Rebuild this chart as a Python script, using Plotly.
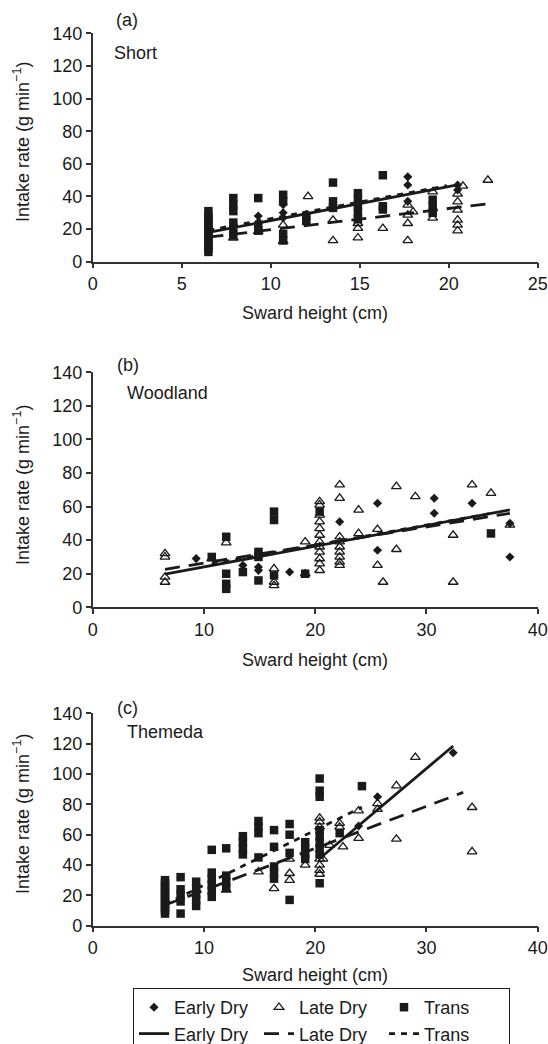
import plotly.graph_objects as go

# ---------------- data ----------------
panels = ["(a)", "(b)", "(c)"]
sites = ["Short", "Woodland", "Themeda"]
x_max = [25, 40, 40]
x_dtick = [5, 10, 10]
y_ticks = [0, 20, 40, 60, 80, 100, 120, 140]

# Panel (a) Short
a_early_x = [9.3, 9.3, 10.7, 10.7, 10.7, 12.0, 13.5, 14.9, 17.7, 17.7, 17.7, 20.5, 20.5]
a_early_y = [28, 24, 35, 30, 27, 29, 33, 36, 52, 47, 37, 47, 44]
a_late_x = [7.9, 9.3, 10.7, 10.7, 12.1, 13.5, 13.5, 14.9, 14.9, 14.9, 16.3, 17.7, 17.7, 17.7, 17.7,
            18.0, 19.1, 19.1, 20.5, 20.5, 20.5, 20.5, 20.5, 20.5, 20.8, 22.2]
a_late_y = [14.5, 18.5, 12.5, 22.5, 40, 13, 25.5, 14.7, 20.5, 23.5, 20.5, 13, 23.5, 28.6, 34.8,
            30.6, 26.8, 42.9, 19, 22.5, 25.6, 31.7, 36.8, 41.5, 46.4, 50]
a_trans_x = [6.5] * 13 + [7.9] * 6 + [9.3] * 3 + [10.7] * 4 + [12.0] * 2 + [13.5] * 3 + [14.9] * 5 + \
            [16.3] * 3 + [19.1] * 3
a_trans_y = [6, 8, 10, 12, 14, 16, 18, 20, 22, 24, 26, 28, 31,
             39, 35, 31, 24, 20, 16,
             39, 22, 19,
             41, 37, 17, 13,
             28, 25,
             48.5, 37, 33,
             42, 38, 34, 30, 26,
             53, 34, 32,
             38, 34, 30]

# Panel (b) Woodland
b_early_x = [9.3, 13.5, 14.9, 14.9, 17.7, 22.2, 25.6, 25.6, 30.7, 30.7, 34.1, 37.5, 37.5]
b_early_y = [29, 25, 24, 22, 21, 51, 62, 34, 65, 56, 62, 50, 30]
b_late_x = [6.5, 6.5, 6.5, 6.5, 10.7, 12.0, 16.3, 16.3, 16.3, 19.1, 19.1] + [20.4] * 12 + [22.2] * 9 + \
           [23.9, 23.9, 25.6, 25.6, 26.1, 27.3, 27.3, 29.0, 32.4, 32.4, 34.1, 35.8, 37.5]
b_late_y = [32, 30, 18, 15, 29, 38.5, 23, 15, 13, 39, 20,
            63, 61, 55, 51, 47, 43, 39, 36, 33, 29, 26, 22,
            73, 65, 42, 39, 36, 33, 30, 27, 25,
            58, 44, 46.5, 25, 15, 72, 34.5, 66, 43, 15, 73, 68, 49]
b_trans_x = [10.7, 12.0, 12.0, 12.0, 12.0, 13.5, 14.9, 14.9, 14.9, 16.3, 16.3, 16.3, 19.1, 20.4, 35.8]
b_trans_y = [30, 42, 20, 14, 11, 21, 33, 30, 16, 57, 52, 19, 20, 57, 44]

# Panel (c) Themeda
c_early_x = [20.4, 20.4, 23.9, 25.6, 32.4]
c_early_y = [52, 46, 65.7, 85, 114]
c_late_x = [12.0, 14.9, 16.3, 17.7, 17.7, 17.7, 19.1, 20.4, 20.4, 20.4, 20.4, 20.4, 20.4, 20.4,
            20.7, 21.3, 22.2, 22.2, 22.5, 23.9, 23.9, 25.6, 25.6, 27.3, 27.3, 29.0, 34.1, 34.1]
c_late_y = [23.5, 35.5, 24.5, 44, 34.5, 30, 40, 71, 68.5, 65, 44, 40, 36.5, 34,
            44, 53, 67.5, 65, 52, 75.8, 57.6, 80.6, 76.7, 92.3, 57.1, 111, 78, 48.8]
c_trans_x = [6.5] * 12 + [7.9] * 5 + [9.3] * 5 + [10.7] * 6 + [12.0] * 4 + [13.5] * 4 + [14.9] * 4 + \
            [16.3] * 5 + [17.7] * 4 + [19.1] * 4 + [20.4] * 9 + [22.2, 24.2]
c_trans_y = [8, 10, 12, 14, 16, 18, 20, 22, 24, 26, 28, 30,
             32, 24, 20, 16, 8,
             29, 25, 21, 17, 13,
             50, 35, 31, 27, 23, 19,
             51, 33, 29, 25,
             59, 55, 51, 47,
             69, 65, 61, 45,
             63, 52, 39, 35, 31,
             67, 60, 48, 17,
             55, 51, 47, 44,
             97, 89, 85, 63, 59, 55, 51, 47, 28,
             61, 92]

early_x = [a_early_x, b_early_x, c_early_x]
early_y = [a_early_y, b_early_y, c_early_y]
late_x = [a_late_x, b_late_x, c_late_x]
late_y = [a_late_y, b_late_y, c_late_y]
trans_x = [a_trans_x, b_trans_x, c_trans_x]
trans_y = [a_trans_y, b_trans_y, c_trans_y]

# fitted regression lines: slope, intercept, x-range per panel
early_slope = [2.08, 1.235, 6.18]
early_icpt = [4.4, 11.67, -81.8]
early_range = [[6.5, 20.5], [6.5, 37.5], [20.4, 32.4]]
late_slope = [1.3, 1.077, 2.77]
late_icpt = [6.6, 15.6, -4.4]
late_range = [[6.5, 22.2], [6.5, 37.5], [6.5, 33.3]]
trans_slope = [2.04, 1.2, 3.62]
trans_icpt = [6.0, 13.0, -9.5]
trans_range = [[6.5, 19.9], [10.7, 35.8], [6.5, 24.2]]

series_names = ["Early Dry", "Late Dry", "Trans"]

# ---------------- layout geometry ----------------
W, H = 548, 1044
ML, MR = 90, 10
GW = W - ML - MR


def px_x(px):
    return (px - ML) / GW


def px_y(py):
    return 1 - py / H


plot_left, plot_right = 92.7, 537.7
plot_tops = [33.3, 372.3, 713.3]
plot_bottoms = [261.7, 607.3, 925.7]

FONT = "Liberation Sans, Arial, Helvetica, sans-serif"
INK = "#1a1a1a"
AX = "#333333"

fig = go.Figure()

marker_styles = [
    dict(symbol="diamond", size=7, color=INK, line=dict(width=0)),
    dict(symbol="triangle-up-open", size=8.5, color=INK, line=dict(width=1.3, color=INK)),
    dict(symbol="square", size=8.5, color=INK, line=dict(width=0)),
]
line_dashes = ["solid", "15px,9px", "6px,6px"]

xs_all = [early_x, late_x, trans_x]
ys_all = [early_y, late_y, trans_y]
slopes = [early_slope, late_slope, trans_slope]
icpts = [early_icpt, late_icpt, trans_icpt]
ranges = [early_range, late_range, trans_range]

for s in range(3):
    for p in range(3):
        xa = "x" if p == 0 else f"x{p + 1}"
        ya = "y" if p == 0 else f"y{p + 1}"
        fig.add_trace(go.Scatter(
            x=xs_all[s][p], y=ys_all[s][p], mode="markers",
            marker=marker_styles[s], name=series_names[s],
            showlegend=(p == 0), legendrank=s + 1,
            xaxis=xa, yaxis=ya, cliponaxis=False))

for s in range(3):
    for p in range(3):
        xa = "x" if p == 0 else f"x{p + 1}"
        ya = "y" if p == 0 else f"y{p + 1}"
        x0, x1 = ranges[s][p]
        m, b = slopes[s][p], icpts[s][p]
        fig.add_trace(go.Scatter(
            x=[x0, x1], y=[m * x0 + b, m * x1 + b], mode="lines",
            line=dict(color=INK, width=2.8, dash=line_dashes[s]),
            name=series_names[s], showlegend=(p == 0), legendrank=s + 4,
            xaxis=xa, yaxis=ya))

layout = dict(
    width=W, height=H,
    margin=dict(l=ML, r=MR, t=0, b=0, autoexpand=False),
    paper_bgcolor="white", plot_bgcolor="white",
    font=dict(family=FONT, size=18, color=INK),
    showlegend=True,
    legend=dict(
        orientation="h", x=px_x(133), y=px_y(988), xanchor="left", yanchor="top",
        bordercolor=INK, borderwidth=1, bgcolor="rgba(255,255,255,0)",
        entrywidth=80, entrywidthmode="pixels",
        font=dict(family=FONT, size=18, color=INK),
        traceorder="normal", itemclick=False,
    ),
    annotations=[],
)

for p in range(3):
    sfx = "" if p == 0 else str(p + 1)
    layout["xaxis" + sfx] = dict(
        domain=[px_x(plot_left), px_x(plot_right)], anchor="y" + sfx,
        range=[0, x_max[p]], dtick=x_dtick[p], tick0=0,
        showline=True, linecolor=AX, linewidth=1.5,
        ticks="outside", ticklen=5, tickwidth=1.5, tickcolor=AX,
        showgrid=False, zeroline=False, automargin=False,
        tickfont=dict(family=FONT, size=18, color=INK),
    )
    layout["yaxis" + sfx] = dict(
        domain=[px_y(plot_bottoms[p]), px_y(plot_tops[p])], anchor="x" + sfx,
        range=[0, 140], tickvals=y_ticks,
        showline=True, linecolor=AX, linewidth=1.5,
        ticks="outside", ticklen=5, tickwidth=1.5, tickcolor=AX,
        showgrid=False, zeroline=False, automargin=False,
        tickfont=dict(family=FONT, size=18, color=INK),
    )

fig.update_layout(**layout)


def ann(text, px, py, xanchor="center", yanchor="middle", angle=0):
    fig.add_annotation(
        text=text, x=px_x(px), y=px_y(py), xref="paper", yref="paper",
        xanchor=xanchor, yanchor=yanchor, showarrow=False, textangle=angle,
        font=dict(family=FONT, size=18, color=INK))


label_pos = [(127, 20), (128, 365), (127, 708)]
site_pos = [(112, 53), (125, 393), (125, 732)]
ytitle_py = [142, 485, 814]
xtitle_py = [313, 660, 975]

for p in range(3):
    ann(panels[p], label_pos[p][0], label_pos[p][1])
    ann(sites[p], site_pos[p][0], site_pos[p][1], xanchor="left")
    ann("Intake rate (g min<sup>−1</sup>)", 21, ytitle_py[p], angle=-90)
    ann("Sward height (cm)", 315, xtitle_py[p])

fig.write_html(
    "out.html",
    config={"displayModeBar": False},
    post_script="document.body.style.margin='0';document.body.style.overflow='hidden';",
)
